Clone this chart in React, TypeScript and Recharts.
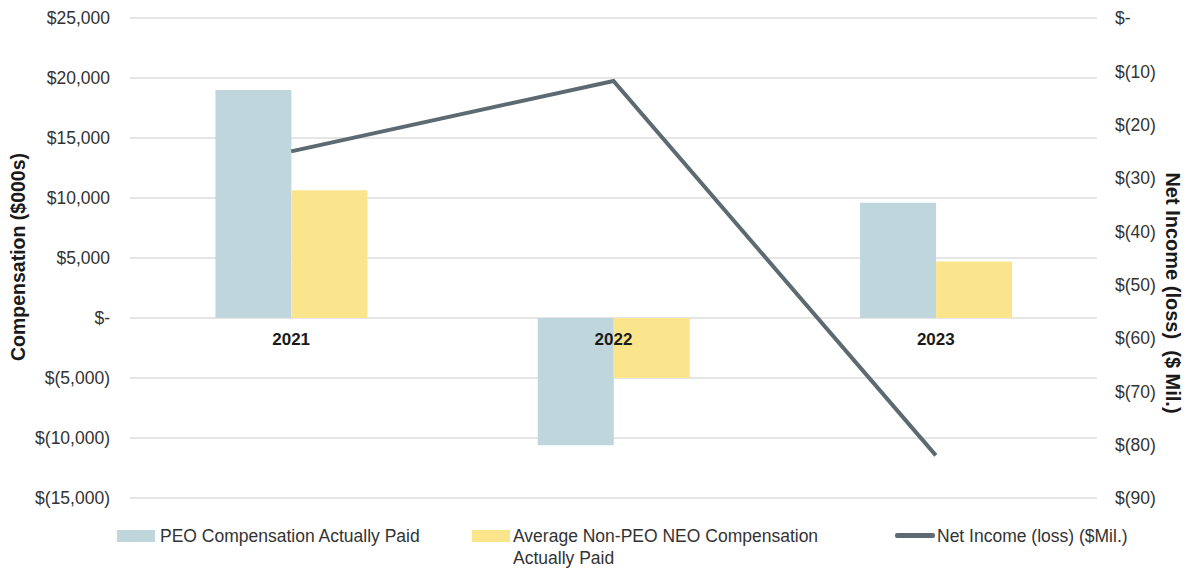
import { ComposedChart, Bar, Line, XAxis, YAxis, CartesianGrid } from 'recharts'

// values
const years = ['2021', '2022', '2023']
const peoPaid = [19000, -10600, 9600]
const nonPeoPaid = [10650, -5000, 4700]
const netIncome = [-25, -11.8, -82]

const leftTicks = [-15000, -10000, -5000, 0, 5000, 10000, 15000, 20000, 25000]
const rightTicks = [-90, -80, -70, -60, -50, -40, -30, -20, -10, 0]

const data = years.map((y, i) => ({
  year: y,
  peo: peoPaid[i],
  nonPeo: nonPeoPaid[i],
  net: netIncome[i],
}))

const W = 1192
const H = 568
const TOP = 18
const BOTTOM = 40
const X_H = 30
const PLOT_H = H - TOP - BOTTOM - X_H
const LEFT_MIN = -15000
const LEFT_MAX = 25000
// y of the $- line, where the year labels sit
const ZERO_Y = TOP + (PLOT_H * LEFT_MAX) / (LEFT_MAX - LEFT_MIN)

const FONT = '"Liberation Sans", Arial, sans-serif'
const PEO_COLOR = '#bfd6dc'
const NONPEO_COLOR = '#fbe58c'
const LINE_COLOR = '#5e6a72'

const fmtLeft = (v: number) => {
  if (v === 0) return '$-'
  const s = Math.abs(v).toLocaleString('en-US')
  return v < 0 ? `$(${s})` : `$${s}`
}
const fmtRight = (v: number) => (v === 0 ? '$-' : v < 0 ? `$(${Math.abs(v)})` : `$${v}`)

const YearTick = ({ x, payload }: { x?: number; payload?: { value: string } }) => (
  <text
    x={x}
    y={ZERO_Y + 21}
    textAnchor="middle"
    dominantBaseline="central"
    fontFamily={FONT}
    fontSize={17}
    fontWeight="bold"
    fill="#1a1a1a"
  >
    {payload?.value}
  </text>
)

type VB = { x: number; y: number; width: number; height: number }

const AxisTitle = (text: string, side: 'left' | 'right') =>
  function Title(props: { viewBox?: VB }) {
    const vb = props.viewBox
    if (!vb) return null
    const cx = side === 'left' ? vb.x + 18 : vb.x + vb.width - 19
    const cy = side === 'left' ? vb.y + vb.height / 2 - 1 : vb.y + vb.height / 2 + 35
    return (
      <text
        x={cx}
        y={cy}
        transform={`rotate(${side === 'left' ? -90 : 90}, ${cx}, ${cy})`}
        textAnchor="middle"
        dominantBaseline="central"
        fontFamily={FONT}
        fontSize={side === 'left' ? 19.5 : 20}
        fontWeight="bold"
        fill="#1a1a1a"
      >
        {text}
      </text>
    )
  }

const LeftTitle = AxisTitle('Compensation ($000s)', 'left')
const RightTitle = AxisTitle('Net Income (loss)\u00a0\u00a0($ Mil.)', 'right')

export default function App() {
  return (
    <div style={{ position: 'absolute', left: 0, top: 0, width: W, height: H, fontFamily: FONT }}>
      <ComposedChart
        width={W}
        height={H}
        data={data}
        margin={{ top: TOP, right: 0, bottom: BOTTOM, left: 0 }}
        barCategoryGap="26.5%"
        barGap={0}
      >
        <CartesianGrid yAxisId="left" vertical={false} stroke="#dcdcdc" strokeWidth={1.5} />
        <XAxis
          dataKey="year"
          height={X_H}
          axisLine={false}
          tickLine={false}
          tick={<YearTick />}
          interval={0}
        />
        <YAxis
          yAxisId="left"
          width={130}
          domain={[LEFT_MIN, LEFT_MAX]}
          ticks={leftTicks}
          tickFormatter={fmtLeft}
          axisLine={false}
          tickLine={false}
          tickMargin={14}
          tick={{ fontSize: 17.5, fill: '#333', fontFamily: FONT }}
          label={{ content: <LeftTitle /> }}
        />
        <YAxis
          yAxisId="right"
          orientation="right"
          width={95}
          domain={[-90, 0]}
          ticks={rightTicks}
          tickFormatter={fmtRight}
          axisLine={false}
          tickLine={false}
          tickMargin={12}
          tick={{ fontSize: 17.5, fill: '#333', fontFamily: FONT }}
          label={{ content: <RightTitle /> }}
        />
        <Bar yAxisId="left" dataKey="peo" fill={PEO_COLOR} isAnimationActive={false} />
        <Bar yAxisId="left" dataKey="nonPeo" fill={NONPEO_COLOR} isAnimationActive={false} />
        <Line
          yAxisId="right"
          dataKey="net"
          type="linear"
          stroke={LINE_COLOR}
          strokeWidth={4}
          dot={false}
          isAnimationActive={false}
        />
      </ComposedChart>

      {/* Legend */}
      <div style={{ position: 'absolute', top: 525, left: 117, fontSize: 17.5, color: '#333', lineHeight: '22px' }}>
        <div style={{ position: 'absolute', left: 0, top: 5, width: 38, height: 12, background: PEO_COLOR }} />
        <div style={{ position: 'absolute', left: 43, top: 0, whiteSpace: 'nowrap' }}>PEO Compensation Actually Paid</div>
      </div>
      <div style={{ position: 'absolute', top: 525, left: 472, fontSize: 17.5, color: '#333', lineHeight: '22px' }}>
        <div style={{ position: 'absolute', left: 0, top: 5, width: 38, height: 12, background: NONPEO_COLOR }} />
        <div style={{ position: 'absolute', left: 41, top: 0, whiteSpace: 'nowrap' }}>
          Average Non-PEO NEO Compensation
          <br />
          Actually Paid
        </div>
      </div>
      <div style={{ position: 'absolute', top: 525, left: 895, fontSize: 17.5, color: '#333', lineHeight: '22px' }}>
        <div style={{ position: 'absolute', left: 0, top: 8, width: 40, height: 5, background: LINE_COLOR, borderRadius: 2 }} />
        <div style={{ position: 'absolute', left: 42, top: 0, whiteSpace: 'nowrap' }}>Net Income (loss) ($Mil.)</div>
      </div>
    </div>
  )
}
